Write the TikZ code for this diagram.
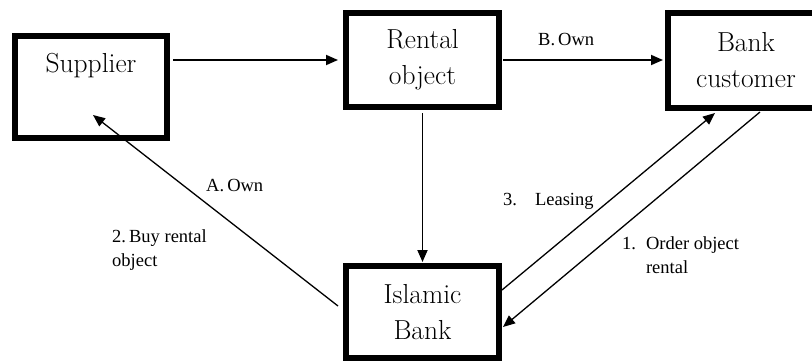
\documentclass[tikz,border=0pt]{standalone}
\usepackage{fontspec}
\newfontfamily\lblfont{Liberation Serif}
\usetikzlibrary{arrows.meta,calc}
\tikzset{
  box/.style={draw=black, line width=6pt, fill=white, align=center, inner sep=0pt,
    font=\fontsize{27.5}{36}\selectfont},
  arr/.style={line width=1.8pt, -{Triangle[length=12pt,width=10pt]}},
  darr/.style={line width=1.3pt, -{Triangle[length=12pt,width=10pt]}},
  lbl/.style={font=\lblfont\fontsize{18.5}{24}\selectfont, inner sep=0pt, anchor=base west}
}
\begin{document}
\begin{tikzpicture}[x=1pt,y=1pt]
\fill[white] (0,0) rectangle (812,360);
\useasboundingbox (0,0) rectangle (812,360);

\node[box, minimum width=152pt, minimum height=102pt, text height=19pt, text depth=49pt] (sup) at (91,273) {Supplier};
\node[box, minimum width=153pt, minimum height=94pt] (rent) at (422.5,300) {Rental\\object};
\node[box, minimum width=156pt, minimum height=95pt] (bank) at (746,299.5) {Bank\\customer};
\node[box, minimum width=153pt, minimum height=92pt] (isl) at (422.5,48) {Islamic\\Bank};

\coordinate (aTip) at ($(sup.center)+(2pt,-28pt)$);
\coordinate (aStart) at ($(isl.west)+(-5pt,6pt)$);
\coordinate (lStart) at ($(isl.east)+(0pt,22pt)$);
\coordinate (lTip) at ($(bank.south)+(-31pt,-2pt)$);
\coordinate (oStart) at ($(bank.south)+(14pt,-1pt)$);
\coordinate (oTip) at ($(isl.east)+(1pt,-15pt)$);

\draw[arr, shorten <=3pt, shorten >=5pt] (sup.east |- rent.west) -- (rent.west);
\draw[arr, shorten <=1pt, shorten >=2pt] (rent.east) -- (bank.west |- rent.east);
\draw[arr, shorten <=3pt, shorten >=1pt] (rent.south) -- (isl.north);
\draw[darr] (aStart) -- (aTip);
\draw[darr] (lStart) -- (lTip);
\draw[darr] (oStart) -- (oTip);

\node[lbl] (lblB) at (538,315) {B.\,Own};
\node[lbl] (lblA) at (206,169) {A.\,Own};
\node[lbl] (lbl2) at (112,118) {\begin{tabular}[t]{@{}l@{}}2.\,Buy rental\\object\end{tabular}};
\node[lbl] (lbl3) at (503,155) {3.\hspace{18pt}Leasing};
\node[lbl] (lbl1) at (622,111) {\begin{tabular}[t]{@{}l@{\hspace{10pt}}l@{}}1. & Order object\\ & rental\end{tabular}};
\end{tikzpicture}
\end{document}
